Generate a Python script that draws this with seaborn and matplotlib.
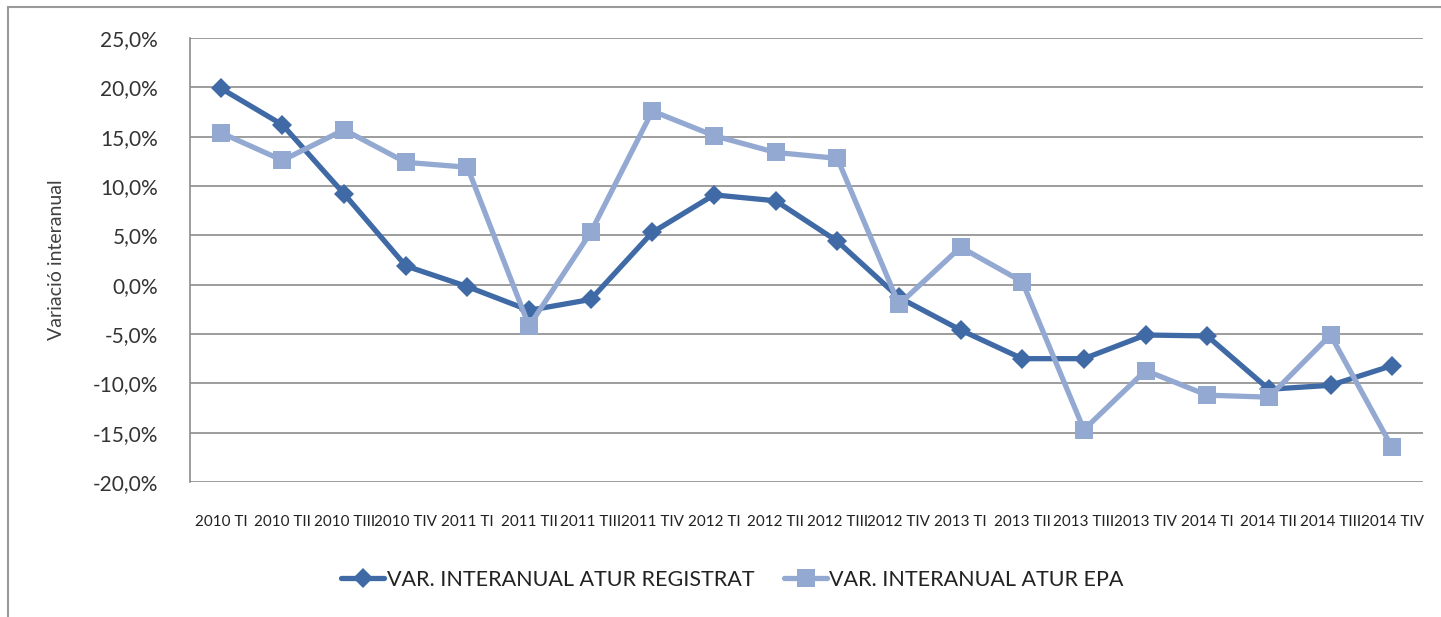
import matplotlib
matplotlib.use('Agg')
import matplotlib.pyplot as plt
import pandas as pd
import seaborn as sns
from matplotlib.ticker import FuncFormatter, MultipleLocator
from matplotlib.patches import Rectangle

# Trimestres
trimestres = ['2010 TI', '2010 TII', '2010 TIII', '2010 TIV',
              '2011 TI', '2011 TII', '2011 TIII', '2011 TIV',
              '2012 TI', '2012 TII', '2012 TIII', '2012 TIV',
              '2013 TI', '2013 TII', '2013 TIII', '2013 TIV',
              '2014 TI', '2014 TII', '2014 TIII', '2014 TIV']

# Variacio interanual (%)
atur_registrat = [19.9, 16.2, 9.2, 1.9, -0.2, -2.6, -1.5, 5.3, 9.1, 8.5,
                  4.4, -1.3, -4.6, -7.5, -7.5, -5.1, -5.2, -10.6, -10.2, -8.2]
atur_epa = [15.4, 12.6, 15.7, 12.4, 11.9, -4.2, 5.3, 17.6, 15.1, 13.4,
            12.8, -2.0, 3.8, 0.3, -14.7, -8.7, -11.2, -11.4, -5.1, -16.5]

serie_reg = 'VAR. INTERANUAL ATUR REGISTRAT'
serie_epa = 'VAR. INTERANUAL ATUR EPA'

df = pd.DataFrame({
    'Trimestre': trimestres * 2,
    'Valor': atur_registrat + atur_epa,
    'Serie': [serie_reg] * len(trimestres) + [serie_epa] * len(trimestres),
})

sns.set_style('white')
plt.rcParams['font.family'] = ['Lato', 'DejaVu Sans']

fig = plt.figure(figsize=(14.41, 6.17), dpi=100)
ax = fig.add_axes([190 / 1441, 1 - 482 / 617, (1423 - 190) / 1441, (482 - 38) / 617])

colors = {serie_reg: '#3f6aa6', serie_epa: '#93a9d2'}
sns.lineplot(data=df, x='Trimestre', y='Valor', hue='Serie', style='Serie',
             markers={serie_reg: 'D', serie_epa: 's'}, dashes=False,
             palette=colors, linewidth=3.8, markersize=10.5, markeredgewidth=0,
             ax=ax, sort=False)

# square markers a bit larger, as in the original
for ln in ax.lines:
    if ln.get_marker() == 's':
        ln.set_markersize(12.5)

ax.set_xlim(-0.5, len(trimestres) - 0.5)
ax.set_ylim(-20, 25)
ax.yaxis.set_major_locator(MultipleLocator(5))
ax.yaxis.set_major_formatter(FuncFormatter(lambda v, p: f'{v:.1f}%'.replace('.', ',')))
ax.grid(axis='y', color='#8c8c8c', linewidth=1.2)
ax.set_axisbelow(True)
for s in ['top', 'right', 'bottom']:
    ax.spines[s].set_visible(False)
ax.spines['left'].set_color('#8c8c8c')
ax.spines['left'].set_linewidth(1.2)
ax.tick_params(axis='y', length=5, color='#8c8c8c', labelsize=15, pad=18, labelcolor='#333333')
ax.tick_params(axis='x', length=0, labelsize=11, pad=24, labelcolor='#222222')
ax.set_xlabel('')
ax.set_ylabel('Variació interanual', fontsize=14, color='#404040', labelpad=20)

leg = ax.legend(loc='center', bbox_to_anchor=(0.44, -0.22), ncol=2, frameon=False,
                fontsize=15.5, handlelength=2.0, columnspacing=1.4, handletextpad=0.1)
for t in leg.get_texts():
    t.set_color('#222222')
for h in leg.legend_handles:
    if h.get_marker() == 's':
        h.set_markersize(12.5)

fig.patches.append(Rectangle((8 / 1441, -0.1), 1.2, 1 - 7 / 617 + 0.1,
                             transform=fig.transFigure, fill=False,
                             edgecolor='#9a9a9a', linewidth=1.5))

plt.savefig('out.png', dpi=100)
